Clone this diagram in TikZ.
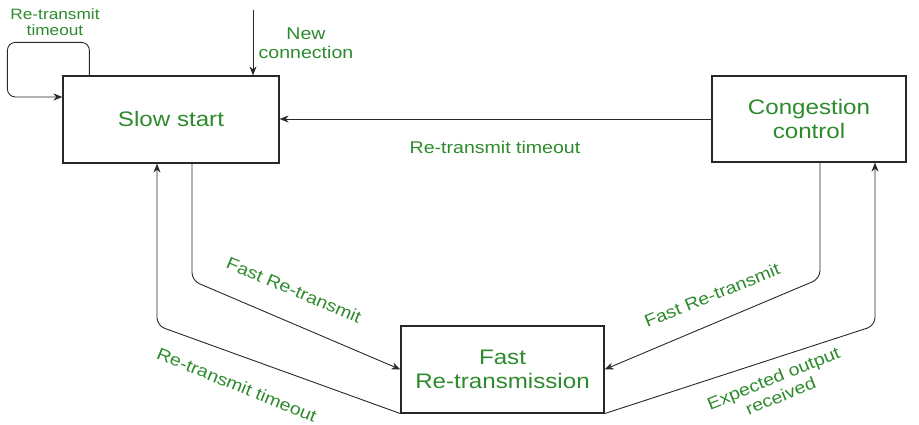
\documentclass[tikz,border=0pt]{standalone}
\usepackage{fontspec}
\setmainfont{Liberation Sans}[FakeStretch=1.15]
\usetikzlibrary{arrows.meta,calc}
\definecolor{labelgreen}{RGB}{45,138,45}
\definecolor{linegray}{RGB}{40,40,40}
\begin{document}
\begin{tikzpicture}[x=1pt,y=1pt,
  state/.style={draw=linegray,line width=1.2pt,fill=white,align=center,
    text=labelgreen,font=\fontsize{21}{24}\selectfont,inner sep=0pt},
  arr/.style={draw=linegray,line width=0.9pt,
    -{Stealth[length=9pt,width=7pt]},rounded corners=8pt},
  lbl/.style={text=labelgreen,align=center,inner sep=0pt,
    font=\fontsize{17}{19}\selectfont},
  smalllbl/.style={lbl,font=\fontsize{15}{16}\selectfont}]
\useasboundingbox (0,0) rectangle (919,425);

% states
\node[state,minimum width=216pt,minimum height=87pt] (ss) at (171,305.5) {Slow start};
\node[state,minimum width=194pt,minimum height=86pt] (cc) at (809,306) {Congestion\\control};
\node[state,minimum width=203pt,minimum height=87pt] (fr) at (502.5,55.5) {Fast\\Re-transmission};

% entry arrow
\coordinate (nc) at (253,415);
\draw[arr] (nc) -- (nc |- ss.north);
\node[lbl] at (306,382) {New\\connection};

% self loop on slow start
\draw[arr] ([xshift=27pt]ss.north west) -- ++(0,33) -- ++(-82,0) |- ([yshift=22.5pt]ss.west);
\node[smalllbl] at (55,403) {Re-transmit\\timeout};

% congestion control back to slow start
\draw[arr] (cc.west) -- (cc.west -| ss.east);
\node[lbl] at (495,278) {Re-transmit timeout};

% slow start <-> fast re-transmission
\draw[arr] ([xshift=21pt]ss.south) -- ++(0,-117) -- (fr.west);
\node[lbl,rotate=-23] at (294,135) {Fast Re-transmit};
\draw[arr] (fr.south west) -- ($(ss.south)+(-14,-162)$) -- ([xshift=-14pt]ss.south);
\node[lbl,rotate=-22] at (237,40) {Re-transmit timeout};

% congestion control <-> fast re-transmission
\draw[arr] ([xshift=11pt]cc.south) -- ++(0,-116) -- (fr.east);
\node[lbl,rotate=22] at (712,130) {Fast Re-transmit};
\draw[arr] (fr.south east) -- ($(cc.south)+(66,-163)$) -- ([xshift=66pt]cc.south);
\node[lbl,rotate=22] at (777,38) {Expected output\\received};
\end{tikzpicture}
\end{document}
